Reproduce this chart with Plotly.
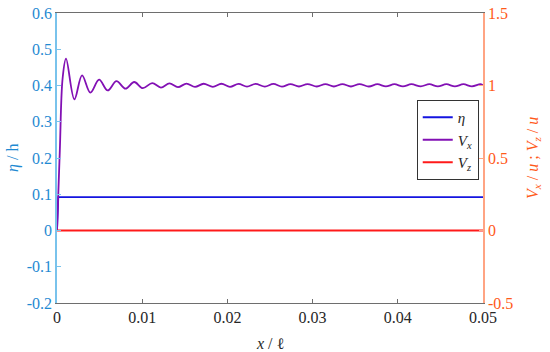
import plotly.graph_objects as go

# ---- data ----
eta_x = [0.0, 0.00015, 0.05]
eta_y = [0.0, 0.092, 0.092]

vx_x = [0.0, 0.00033, 0.00066, 0.00106, 0.00204, 0.00294, 0.00392, 0.00494, 0.00595,
        0.00698, 0.00804, 0.00906, 0.01007, 0.01118, 0.0122, 0.0132, 0.0142, 0.0152,
        0.0162, 0.0172, 0.0183, 0.0193, 0.0203, 0.0213, 0.0223, 0.0233, 0.0244, 0.0254,
        0.0264, 0.0274, 0.0284, 0.0294, 0.0305, 0.0315, 0.0325, 0.0335, 0.0345, 0.0355,
        0.0366, 0.0376, 0.0386, 0.0396, 0.0406, 0.0416, 0.0427, 0.0437, 0.0447, 0.0457,
        0.0467, 0.0477, 0.0487, 0.0497, 0.05]
vx_y = [0.0, 0.55, 1.05, 1.185, 0.904, 1.070, 0.951, 1.040, 0.966,
        1.030, 0.978, 1.024, 0.982, 1.017, 0.986, 1.014, 0.989, 1.013,
        0.990, 1.012, 0.991, 1.012, 0.991, 1.011, 0.992, 1.011, 0.992, 1.011,
        0.992, 1.010, 0.993, 1.010, 0.993, 1.010, 0.993, 1.010, 0.993, 1.010,
        0.993, 1.009, 0.994, 1.009, 0.994, 1.009, 0.994, 1.009, 0.994, 1.009,
        0.994, 1.009, 0.994, 1.009, 1.002]

vz_x = [0.0, 0.05]
vz_y = [0.0, 0.0]

x_ticks = [0, 0.01, 0.02, 0.03, 0.04, 0.05]
x_tick_text = ["0", "0.01", "0.02", "0.03", "0.04", "0.05"]
yl_ticks = [-0.2, -0.1, 0, 0.1, 0.2, 0.3, 0.4, 0.5, 0.6]
yl_tick_text = ["-0.2", "-0.1", "0", "0.1", "0.2", "0.3", "0.4", "0.5", "0.6"]
yr_ticks = [-0.5, 0, 0.5, 1, 1.5]
yr_tick_text = ["-0.5", "0", "0.5", "1", "1.5"]

x_title = "<i>x</i> / ℓ"
yl_title = "<i>η</i> / h"
yr_title = "<i>V<sub>x</sub></i> / <i>u</i> ; <i>V<sub>z</sub></i> / <i>u</i>"

FONT = "Liberation Serif"
FS = 16
BLUE_TXT = "#1F8AD2"
BLUE_LINE = "#79C3EC"
ORANGE_TXT = "#FF5A1A"
ORANGE_LINE = "#FFA483"
GRAY = "#6E6E6E"
DARK = "#262626"

fig = go.Figure()
fig.add_trace(go.Scatter(x=eta_x, y=eta_y, mode="lines", name="<i>η</i>",
                         line=dict(color="#1414E0", width=1.8), yaxis="y"))
fig.add_trace(go.Scatter(x=vx_x, y=vx_y, mode="lines", name="<i>V<sub>x</sub></i>",
                         line=dict(color="#8210B4", width=1.8, shape="spline", smoothing=1.0),
                         yaxis="y2"))
fig.add_trace(go.Scatter(x=vz_x, y=vz_y, mode="lines", name="<i>V<sub>z</sub></i>",
                         line=dict(color="#FF1A1A", width=1.8), yaxis="y2"))

fig.update_layout(
    width=550, height=352,
    margin=dict(l=57, r=67, t=13, b=49, autoexpand=False),
    paper_bgcolor="white", plot_bgcolor="white",
    font=dict(family=FONT, size=FS, color=DARK),
    showlegend=True,
    legend=dict(x=0.99, y=0.7, xanchor="right", yanchor="top",
                bgcolor="white", bordercolor="#333333", borderwidth=1,
                font=dict(family=FONT, size=15, color=DARK),
                itemwidth=30, tracegroupgap=0),
    xaxis=dict(range=[0, 0.05], tickvals=x_ticks, ticktext=x_tick_text,
               showgrid=False, zeroline=False, showline=True, linecolor=GRAY,
               linewidth=1, mirror="ticks", ticks="inside", ticklen=4, tickcolor=GRAY,
               automargin=False,
               tickfont=dict(family=FONT, size=FS, color=DARK)),
    yaxis=dict(range=[-0.2, 0.6], tickvals=yl_ticks, ticktext=yl_tick_text,
               showgrid=False, zeroline=False, showline=True, linecolor=BLUE_LINE,
               linewidth=1.5, ticks="inside", ticklen=4, tickcolor=BLUE_LINE,
               automargin=False,
               tickfont=dict(family=FONT, size=FS, color=BLUE_TXT)),
    yaxis2=dict(range=[-0.5, 1.5], tickvals=yr_ticks, ticktext=yr_tick_text,
                overlaying="y", side="right",
                showgrid=False, zeroline=False, showline=True, linecolor=ORANGE_LINE,
                linewidth=1.5, ticks="inside", ticklen=4, tickcolor=ORANGE_LINE,
                automargin=False,
                tickfont=dict(family=FONT, size=FS, color=ORANGE_TXT)),
    annotations=[
        dict(text=x_title, xref="paper", yref="paper", x=0.5, y=0, xanchor="center",
             yanchor="middle", yshift=-40, showarrow=False,
             font=dict(family=FONT, size=FS, color=DARK)),
        dict(text=yl_title, xref="paper", yref="paper", x=0, y=0.5, xanchor="center",
             yanchor="middle", xshift=-44, textangle=-90, showarrow=False,
             font=dict(family=FONT, size=FS, color=BLUE_TXT)),
        dict(text=yr_title, xref="paper", yref="paper", x=1, y=0.5, xanchor="center",
             yanchor="middle", xshift=50, textangle=-90, showarrow=False,
             font=dict(family=FONT, size=FS, color=ORANGE_TXT)),
    ],
)

fig.write_html("out.html", config={"displayModeBar": False},
               post_script="document.body.style.margin='0';")
